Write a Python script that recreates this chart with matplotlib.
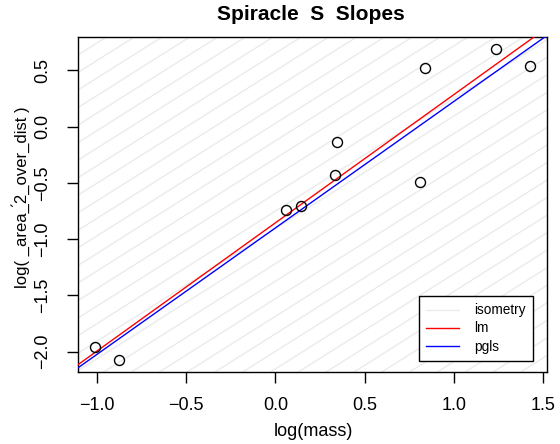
import numpy as np
import matplotlib
matplotlib.use("Agg")
import matplotlib.pyplot as plt
from matplotlib.lines import Line2D

plt.rcParams["font.family"] = ["Liberation Sans", "DejaVu Sans"]

# data
log_mass = [-1.01, -0.877, 0.059, 0.143, 0.333, 0.345, 0.810, 0.838, 1.235, 1.426]
log_ratio = [-1.955, -2.071, -0.741, -0.705, -0.429, -0.134, -0.491, 0.518, 0.6875, 0.536]
x_ticks = [-1.0, -0.5, 0.0, 0.5, 1.0, 1.5]
y_ticks = [-2.0, -1.5, -1.0, -0.5, 0.0, 0.5]
pgls_coef = (1.1235, -0.900)   # slope, intercept
iso_slope = 1.0
iso_first = 1.59
iso_step = 0.156

x = np.array(log_mass)
y = np.array(log_ratio)
lm_coef = np.polyfit(x, y, 1)

fig = plt.figure(figsize=(5.6, 4.44), dpi=100)
ax = fig.add_axes([78 / 560, 1 - 372 / 444, 469 / 560, 335 / 444])

# R-style 4% padding
xr = x.max() - x.min()
yr = y.max() - y.min()
xlim = (x.min() - 0.04 * xr, x.max() + 0.04 * xr)
ylim = (y.min() - 0.04 * yr, y.max() + 0.04 * yr)

xx = np.array([xlim[0] - 1, xlim[1] + 1])
iso_col = "#ebebeb"
b = iso_first
while b > -6:
    ax.plot(xx, iso_slope * xx + b, color=iso_col, lw=1, zorder=1)
    b -= iso_step
b = iso_first + iso_step
while b < 6:
    ax.plot(xx, iso_slope * xx + b, color=iso_col, lw=1, zorder=1)
    b += iso_step

ax.plot(xx, np.polyval(lm_coef, xx), color="red", lw=1, zorder=3)
ax.plot(xx, pgls_coef[0] * xx + pgls_coef[1], color="blue", lw=1, zorder=3)
ax.plot(x, y, "o", mfc="none", mec="black", ms=7.2, mew=1, zorder=4)

ax.set_xlim(xlim)
ax.set_ylim(ylim)
ax.set_xticks(x_ticks)
ax.set_yticks(y_ticks)
ax.set_xticklabels([f"{v:.1f}".replace("-", "\u2212") for v in x_ticks])
ax.set_yticklabels([f"{v:.1f}".replace("-", "\u2212") for v in y_ticks],
                   rotation=90, va="center")
ax.tick_params(axis="both", length=8, width=1, labelsize=13)
ax.tick_params(axis="x", pad=10)
ax.tick_params(axis="y", pad=11)
for s in ax.spines.values():
    s.set_linewidth(1)
    s.set_color("black")

fig.text(311 / 560, 1 - 15 / 444, "Spiracle  S  Slopes", ha="center", va="center",
         fontsize=15, fontweight="bold")
fig.text(313 / 560, 1 - 431 / 444, "log(mass)", ha="center", va="center", fontsize=13)
fig.text(21 / 560, 1 - 197 / 444, "log( _area_\u03012_over_dist )", ha="center",
         va="center", rotation=90, fontsize=12)

handles = [Line2D([], [], color=iso_col, lw=1),
           Line2D([], [], color="red", lw=1),
           Line2D([], [], color="blue", lw=1)]
leg = ax.legend(handles, ["isometry", "lm", "pgls"], loc="lower right",
                bbox_to_anchor=((533 - 78) / 469, (372 - 361) / 335),
                fontsize=9.8, fancybox=False, framealpha=1, edgecolor="black",
                handlelength=2.4, handletextpad=1.1, labelspacing=0.3,
                borderpad=0.55, borderaxespad=0)
leg.get_frame().set_linewidth(1)
leg.set_zorder(5)

fig.savefig("out.png", dpi=100)
